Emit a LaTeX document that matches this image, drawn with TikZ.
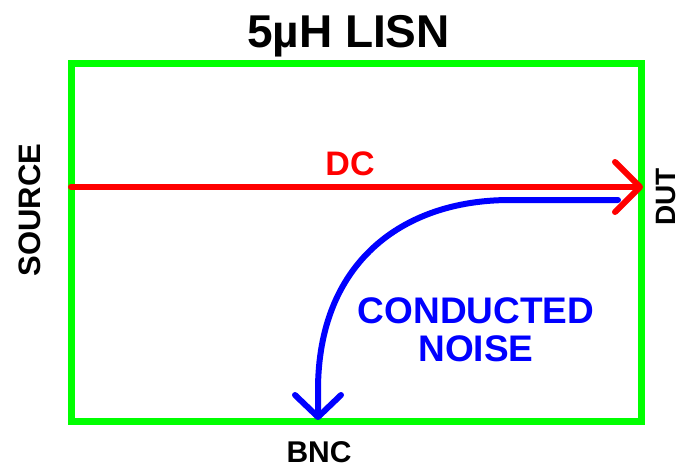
\documentclass[tikz,border=0pt]{standalone}
\usepackage{fontspec}
\setmainfont{Liberation Sans}
\usetikzlibrary{arrows.meta}
\definecolor{boxgreen}{RGB}{0,255,0}
\definecolor{dcred}{RGB}{255,0,0}
\definecolor{noiseblue}{RGB}{0,0,255}
\begin{document}
\begin{tikzpicture}[x=1pt,y=-1pt,
  lbl/.style={font=\bfseries, inner sep=0pt, anchor=base},
  dcline/.style={draw=dcred, line width=6pt, line cap=round,
     -{Straight Barb[length=25pt,width=50pt,round]}},
  noiseline/.style={draw=noiseblue, line width=6pt, line cap=round,
     -{Straight Barb[length=22pt,width=46pt,round]}}]
\useasboundingbox (0,0) rectangle (684,471);
% enclosure
\draw[boxgreen, line width=7pt] (71.5,63.5) rectangle (641,421.5);
% labels
\node[lbl, font=\fontsize{46}{46}\selectfont\bfseries] (title) at (348.5,47) {5µH LISN};
\node[lbl, rotate=90, font=\fontsize{31}{31}\selectfont\bfseries] (source) at (40,210) {SOURCE};
\node[lbl, rotate=90, font=\fontsize{28}{28}\selectfont\bfseries] (dut) at (675,197) {DUT};
\node[lbl, font=\fontsize{30}{30}\selectfont\bfseries] (bnc) at (319,462) {BNC};
\node[lbl, text=dcred, font=\fontsize{34}{34}\selectfont\bfseries] (dc) at (350,175) {DC};
\node[lbl, text=noiseblue, align=center, font=\fontsize{37}{38}\selectfont\bfseries] (noise) at (476,361) {CONDUCTED\\NOISE};
% connectors
\coordinate (srcpt) at (71,187);
\coordinate (dutpt) at (643,187);
\coordinate (nstart) at (618,200);
\coordinate (bncpt) at (318,420);
\draw[dcline] (srcpt) -- (dutpt);
\draw[noiseline] (nstart) -- (510,200) .. controls (400,200) and (318,265) .. (318,390) -- (bncpt);
\end{tikzpicture}
\end{document}
